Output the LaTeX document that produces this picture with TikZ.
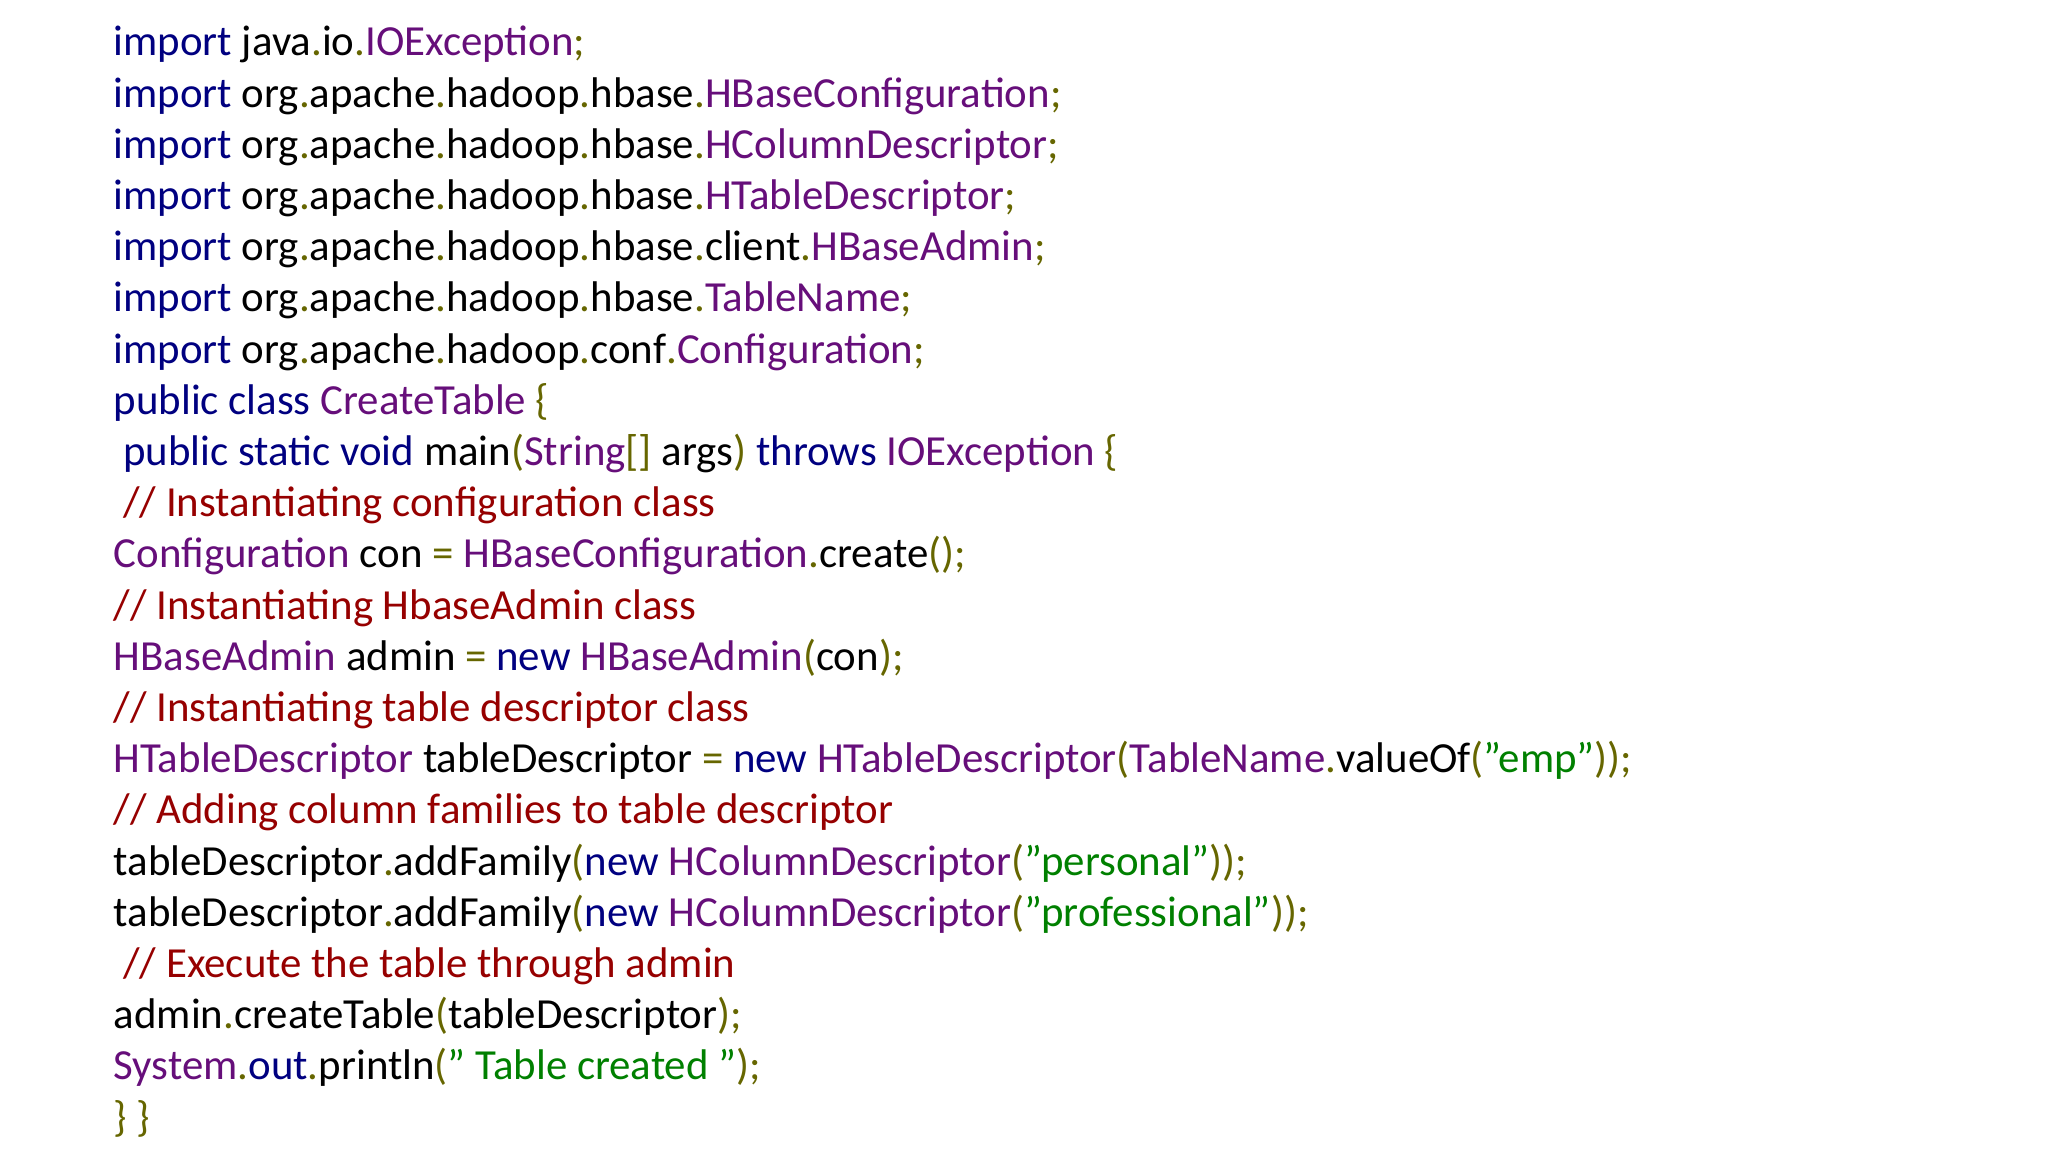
\documentclass[tikz,border=0pt]{standalone}
\usepackage{fontspec}
\setmainfont{Carlito}
\definecolor{kwc}{RGB}{0,0,128}
\definecolor{cnc}{RGB}{102,14,122}
\definecolor{puc}{RGB}{102,102,0}
\definecolor{cmc}{RGB}{150,0,0}
\definecolor{stc}{RGB}{0,128,0}
\newcommand\Kw[1]{\textcolor{kwc}{#1}}
\newcommand\Cn[1]{\textcolor{cnc}{#1}}
\newcommand\Pu[1]{\textcolor{puc}{#1}}
\newcommand\Cm[1]{\textcolor{cmc}{#1}}
\newcommand\St[1]{\textcolor{stc}{#1}}
\tikzset{codeline/.style={anchor=base west,inner sep=0pt,font=\fontsize{12.2}{14}\selectfont}}
\begin{document}
\begin{tikzpicture}[x=0.1mm,y=-0.1mm]
\useasboundingbox (0,0) rectangle (2048,1152);
\node[codeline] (l1) at (113,56.0) {\Kw{import} java\Pu{.}io\Pu{.}\Cn{IOException}\Pu{;}};
\node[codeline] (l2) at (113,107.2) {\Kw{import} org\Pu{.}apache\Pu{.}hadoop\Pu{.}hbase\Pu{.}\Cn{HBaseConfiguration}\Pu{;}};
\node[codeline] (l3) at (113,158.4) {\Kw{import} org\Pu{.}apache\Pu{.}hadoop\Pu{.}hbase\Pu{.}\Cn{HColumnDescriptor}\Pu{;}};
\node[codeline] (l4) at (113,209.6) {\Kw{import} org\Pu{.}apache\Pu{.}hadoop\Pu{.}hbase\Pu{.}\Cn{HTableDescriptor}\Pu{;}};
\node[codeline] (l5) at (113,260.8) {\Kw{import} org\Pu{.}apache\Pu{.}hadoop\Pu{.}hbase\Pu{.}client\Pu{.}\Cn{HBaseAdmin}\Pu{;}};
\node[codeline] (l6) at (113,312.0) {\Kw{import} org\Pu{.}apache\Pu{.}hadoop\Pu{.}hbase\Pu{.}\Cn{TableName}\Pu{;}};
\node[codeline] (l7) at (113,363.2) {\Kw{import} org\Pu{.}apache\Pu{.}hadoop\Pu{.}conf\Pu{.}\Cn{Configuration}\Pu{;}};
\node[codeline] (l8) at (113,414.4) {\Kw{public class} \Cn{CreateTable} \Pu{\{}};
\node[codeline] (l9) at (113,465.6) {\ \Kw{public static void} main\Pu{(}\Cn{String}\Pu{[]} args\Pu{)} \Kw{throws} \Cn{IOException} \Pu{\{}};
\node[codeline] (l10) at (113,516.8) {\ \Cm{// Instantiating configuration class}};
\node[codeline] (l11) at (113,568.0) {\Cn{Configuration} con \Pu{=} \Cn{HBaseConfiguration}\Pu{.}create\Pu{();}};
\node[codeline] (l12) at (113,619.2) {\Cm{// Instantiating HbaseAdmin class}};
\node[codeline] (l13) at (113,670.4) {\Cn{HBaseAdmin} admin \Pu{=} \Kw{new} \Cn{HBaseAdmin}\Pu{(}con\Pu{);}};
\node[codeline] (l14) at (113,721.6) {\Cm{// Instantiating table descriptor class}};
\node[codeline] (l15) at (113,772.8) {\Cn{HTableDescriptor} tableDescriptor \Pu{=} \Kw{new} \Cn{HTableDescriptor}\Pu{(}\Cn{TableName}\Pu{.}valueOf\Pu{(}\St{"emp"}\Pu{));}};
\node[codeline] (l16) at (113,824.0) {\Cm{// Adding column families to table descriptor}};
\node[codeline] (l17) at (113,875.2) {tableDescriptor\Pu{.}addFamily\Pu{(}\Kw{new} \Cn{HColumnDescriptor}\Pu{(}\St{"personal"}\Pu{));}};
\node[codeline] (l18) at (113,926.4) {tableDescriptor\Pu{.}addFamily\Pu{(}\Kw{new} \Cn{HColumnDescriptor}\Pu{(}\St{"professional"}\Pu{));}};
\node[codeline] (l19) at (113,977.6) {\ \Cm{// Execute the table through admin}};
\node[codeline] (l20) at (113,1028.8) {admin\Pu{.}createTable\Pu{(}tableDescriptor\Pu{);}};
\node[codeline] (l21) at (113,1080.0) {\Cn{System}\Pu{.}\Kw{out}\Pu{.}println\Pu{(}\St{" Table created "}\Pu{);}};
\node[codeline] (l22) at (113,1131.2) {\Pu{\} \}}};
\end{tikzpicture}
\end{document}
